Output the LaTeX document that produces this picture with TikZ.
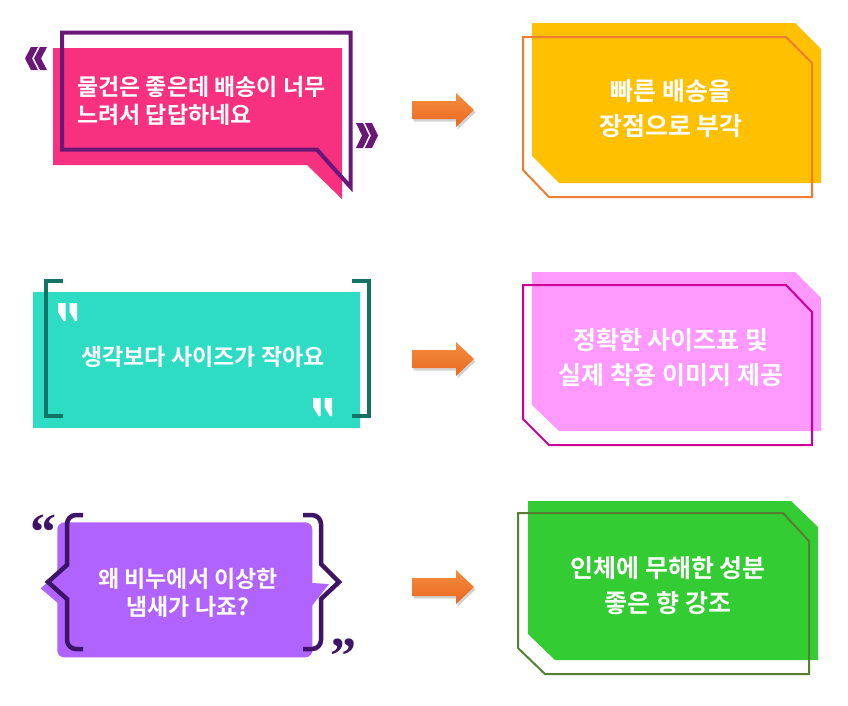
\documentclass[tikz,border=0pt]{standalone}
\usepackage{fontspec}
\newfontfamily\krb{Noto Sans CJK KR Bold}
\newfontfamily\qserif{Liberation Serif Bold}
\usetikzlibrary{shadows}
\definecolor{pinkA}{HTML}{F7317F}
\definecolor{purpA}{HTML}{6A1778}
\definecolor{tealA}{HTML}{2EDCC3}
\definecolor{tealB}{HTML}{137466}
\definecolor{violA}{HTML}{B163FF}
\definecolor{violB}{HTML}{3D1466}
\definecolor{yelA}{HTML}{FFC000}
\definecolor{orgA}{HTML}{ED7D31}
\definecolor{pnkB}{HTML}{FF99FF}
\definecolor{magB}{HTML}{CC0099}
\definecolor{grnA}{HTML}{33CC33}
\definecolor{olvA}{HTML}{567F33}
\definecolor{arrT}{HTML}{F68D40}
\definecolor{arrB}{HTML}{E8681C}
\tikzset{
  lbl/.style={text=white, inner sep=0pt, font=\krb\fontsize{23}{34}\selectfont, align=center},
  rlbl/.style={lbl, font=\krb\fontsize{25}{35}\selectfont},
  blockarrow/.style={top color=arrT, bottom color=arrB, draw=none,
    drop shadow={opacity=.35, shadow xshift=1.5pt, shadow yshift=-2.5pt}},
  outl/.style={line width=2pt, line join=miter},
}
\begin{document}
\begin{tikzpicture}[x=1pt,y=-1pt]
\useasboundingbox[fill=white] (0,0) rectangle (848,705);

% ---------- Box 1 (speech bubble) ----------
\fill[pinkA] (53,48) -- (342,48) -- (342,199) -- (307,165) -- (53,165) -- cycle;
\draw[purpA, line width=4pt, line join=miter] (62,32.7) -- (350.5,32.7) -- (350.5,187) -- (317,149.7) -- (62,149.7) -- cycle;
\fill[purpA] (31,47) -- (38,47) -- (32,58.5) -- (38,70) -- (31,70) -- (25,58.5) -- cycle;
\fill[purpA] (40,47) -- (47,47) -- (41,58.5) -- (47,70) -- (40,70) -- (34,58.5) -- cycle;
\fill[purpA] (356,123) -- (363,123) -- (369,135.5) -- (363,148) -- (356,148) -- (362,135.5) -- cycle;
\fill[purpA] (365,123) -- (372,123) -- (378,135.5) -- (372,148) -- (365,148) -- (371,135.5) -- cycle;
\node[lbl, anchor=west, align=left, font=\krb\fontsize{23}{28}\selectfont] (t1) at (77,101) {물건은 좋은데 배송이 너무\\느려서 답답하네요};

% ---------- Box 2 (brackets) ----------
\fill[tealA] (33,292) rectangle (360,428);
\draw[tealB, line width=4pt, line join=miter] (63.3,281.3) -- (46.3,281.3) -- (46.3,415.5) -- (63.3,415.5);
\draw[tealB, line width=4pt, line join=miter] (351.7,281.3) -- (368.7,281.3) -- (368.7,415.5) -- (351.7,415.5);
\foreach \qx/\qy in {58/303, 69.5/303, 313/398, 324.5/398}{
  \fill[white] (\qx,\qy) -- (\qx+7.5,\qy) -- (\qx+7.5,\qy+18) -- (\qx+5.5,\qy+18) -- (\qx,\qy+9) -- cycle;
}
\node[lbl] (t2) at (203,357) {생각보다 사이즈가 작아요};

% ---------- Box 3 (braces) ----------
\fill[violA, rounded corners=7pt] (57.3,522.3) rectangle (312.3,657.3);
\fill[violA] (57.8,573.5) -- (40.7,588.3) -- (57.8,603) -- cycle;
\fill[violA] (311.8,583) -- (329,584) -- (311.8,606) -- cycle;
\draw[violB, line width=4.5pt, line join=miter]
  (83,515) [rounded corners=9pt] -- (67,515) -- (67,545) [sharp corners] -- (67,565) -- (48,582) -- (67,599) -- (67,620) [rounded corners=9pt] -- (67,649) -- (83,649);
\draw[violB, line width=4.5pt, line join=miter]
  (303,515) [rounded corners=9pt] -- (321,515) -- (321,545) [sharp corners] -- (321,564) -- (339,582) -- (321,599) -- (321,620) [rounded corners=9pt] -- (321,649) -- (303,649);
\node[text=violB, inner sep=0pt, anchor=base, font=\qserif\fontsize{52}{52}\selectfont] (q1) at (43.5,549) {“};
\node[text=violB, inner sep=0pt, anchor=base, font=\qserif\fontsize{52}{52}\selectfont] (q2) at (343,673) {”};
\node[lbl, font=\krb\fontsize{23}{28}\selectfont] (t3) at (188,593) {왜 비누에서 이상한\\냄새가 나죠?};

% ---------- Arrows ----------
\foreach \ay/\an in {110/a1, 359/a2, 587/a3}{
  \path[blockarrow] (412,\ay-9) -- (456,\ay-9) -- (456,\ay-17) -- (474,\ay) -- (456,\ay+17) -- (456,\ay+9) -- (412,\ay+9) -- cycle;
  \coordinate (\an) at (443,\ay);
}

% ---------- Right box 1 ----------
\fill[yelA] (532,23) -- (795,23) -- (821,49) -- (821,183) -- (559,183) -- (532,156) -- cycle;
\draw[orgA, outl] (523,37) -- (786,37) -- (812,63) -- (812,197) -- (549,197) -- (523,170) -- cycle;
\node[rlbl] (r1) at (671,108.5) {빠른 배송을\\장점으로 부각};

% ---------- Right box 2 ----------
\fill[pnkB] (532,272) -- (795,272) -- (821,298) -- (821,431) -- (559,431) -- (532,405) -- cycle;
\draw[magB, outl] (523,285) -- (786,285) -- (812,312) -- (812,445) -- (549,445) -- (523,419) -- cycle;
\node[rlbl] (r2) at (671,358) {정확한 사이즈표 및\\실제 착용 이미지 제공};

% ---------- Right box 3 ----------
\fill[grnA] (528,501) -- (791,501) -- (818,527) -- (818,660) -- (555,660) -- (528,634) -- cycle;
\draw[olvA, outl] (518,513) -- (783,513) -- (809,541) -- (809,674) -- (545,674) -- (518,648) -- cycle;
\node[rlbl] (r3) at (668,586) {인체에 무해한 성분\\좋은 향 강조};
\end{tikzpicture}
\end{document}
